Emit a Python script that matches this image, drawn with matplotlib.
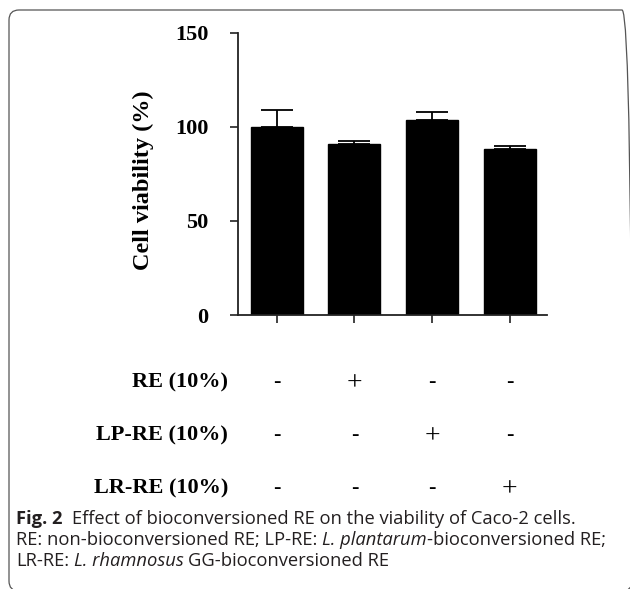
import numpy as np
import matplotlib
matplotlib.use("Agg")
from matplotlib import pyplot as plt, patches
from matplotlib.transforms import IdentityTransform, blended_transform_factory

# values
groups = ["ctrl", "RE", "LP-RE", "LR-RE"]
viability = [100.0, 91.0, 103.5, 88.2]
viability_sd = [8.8, 1.4, 4.6, 1.9]
yticks = [0, 50, 100, 150]

row_labels = ["RE (10%)", "LP-RE (10%)", "LR-RE (10%)"]
row_signs = [["-", "+", "-", "-"],
             ["-", "-", "+", "-"],
             ["-", "-", "-", "+"]]

caption = [
    [("Fig. 2", "bold", "normal"),
     ("  Effect of bioconversioned RE on the viability of Caco-2 cells.", "normal", "normal")],
    [("RE: non-bioconversioned RE; LP-RE: ", "normal", "normal"),
     ("L. plantarum", "normal", "italic"),
     ("-bioconversioned RE;", "normal", "normal")],
    [("LR-RE: ", "normal", "normal"),
     ("L. rhamnosus", "normal", "italic"),
     (" GG-bioconversioned RE", "normal", "normal")],
]

W, H = 630, 589
serif = "Liberation Serif"
cap_font = "Open Sans"
cap_size = 13.2

fig = plt.figure(figsize=(W / 100, H / 100), dpi=100)
ax = fig.add_axes([238 / W, 1 - 315 / H, (547 - 238) / W, (315 - 33) / H])

x = np.arange(len(groups))
ax.bar(x, viability, width=0.67, color="black", edgecolor="black",
       yerr=[np.zeros(len(x)), viability_sd], capsize=11.5,
       error_kw=dict(elinewidth=1.3, capthick=1.3, ecolor="black"))

ax.set_ylim(0, 150)
ax.set_xlim(-0.5, 3.48)
for s in ["top", "right"]:
    ax.spines[s].set_visible(False)
for s in ["left", "bottom"]:
    ax.spines[s].set_linewidth(1.3)
    ax.spines[s].set_color("#222222")
ax.set_yticks(yticks)
ax.set_yticklabels([str(t) for t in yticks], fontfamily=serif,
                   fontweight="bold", fontsize=16)
ax.set_xticks(x)
ax.set_xticklabels([""] * len(x))
ax.tick_params(axis="both", direction="out", length=6, width=1.2, color="#222222")
ax.tick_params(axis="y", pad=15.5)

fig.text(143 / W, 1 - 180 / H, "Cell viability (%)", rotation=90,
         ha="center", va="center", fontfamily=serif, fontweight="bold",
         fontsize=17.5)

# condition table under the bars
tr = blended_transform_factory(ax.transData, fig.transFigure)
row_base = [387, 440, 493]
for lab, signs, yb in zip(row_labels, row_signs, row_base):
    fig.text(228 / W, 1 - yb / H, lab, ha="right", va="baseline",
             fontfamily=serif, fontweight="bold", fontsize=16)
    for xi, s in zip(x, signs):
        if s == "-":
            ax.text(xi, 1 - yb / H, s, transform=tr, ha="center", va="baseline",
                    fontfamily=serif, fontsize=16, fontweight="bold")
        else:
            ax.text(xi, 1 - (yb - 3) / H, s, transform=tr, ha="center", va="center",
                    fontfamily=serif, fontsize=20)

# caption, written run by run
renderer = fig.canvas.get_renderer()


def width_of(s, weight, style):
    t = fig.text(0, 0, s, fontfamily=cap_font, fontsize=cap_size,
                 fontweight=weight, fontstyle=style)
    w = t.get_window_extent(renderer).width
    t.remove()
    return w


cap_base = [524, 545, 566]
for runs, yb in zip(caption, cap_base):
    px = 16.0
    for s, weight, style in runs:
        lead = len(s) - len(s.lstrip(" "))
        trail = len(s) - len(s.rstrip(" "))
        sp = width_of("a a", weight, style) - width_of("aa", weight, style)
        px += lead * sp
        core = s.strip(" ")
        t = fig.text(px / W, 1 - yb / H, core, ha="left", va="baseline",
                     fontfamily=cap_font, fontsize=cap_size, fontweight=weight,
                     fontstyle=style, color="#231f20")
        px += t.get_window_extent(renderer).width + trail * sp

# rounded frame round the figure
frame = patches.FancyBboxPatch((9, -2), 623, 581,
                               boxstyle="round,pad=0,rounding_size=10",
                               transform=IdentityTransform(), fill=False,
                               edgecolor="#555555", linewidth=0.9)
fig.add_artist(frame)

fig.savefig("out.png", dpi=100)
